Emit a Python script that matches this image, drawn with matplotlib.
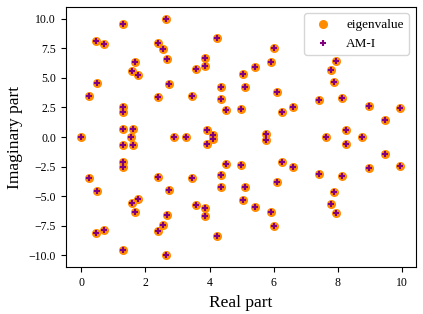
import numpy as np
import matplotlib
matplotlib.use("Agg")
import matplotlib.pyplot as plt

plt.rcParams['font.family'] = ['Liberation Serif', 'DejaVu Serif']
plt.rcParams['mathtext.fontset'] = 'stix'

# Real eigenvalues (imaginary part 0)
real_only = [0.01, 1.54, 2.88, 3.27, 7.63, 8.74]

# Complex conjugate pairs: real part and positive imaginary part
pair_re = [0.24, 0.47, 0.51, 0.72, 1.29, 1.29, 1.29, 1.29, 1.58, 1.69,
           1.77, 1.62, 2.39, 2.38, 2.55, 2.63, 2.68, 2.74, 3.45, 3.59,
           3.86, 3.86, 3.93, 4.12, 4.22, 4.36, 4.37, 4.50, 5.03, 5.10,
           4.98, 5.43, 5.90, 6.02, 6.11, 6.26, 6.60, 5.77, 7.42, 7.79,
           7.87, 7.95, 8.13, 8.24, 8.96, 9.46, 9.92]
pair_im = [3.49, 8.11, 4.56, 7.84, 9.53, 2.51, 2.11, 0.65, 5.60, 6.37,
           5.27, 0.65, 7.97, 3.35, 7.47, 10.0, 6.62, 4.48, 3.49, 5.75,
           6.65, 6.00, 0.59, 0.20, 8.34, 4.25, 3.24, 2.25, 5.33, 4.23,
           2.37, 5.94, 6.34, 7.55, 3.83, 2.13, 2.50, 0.28, 3.10, 5.68,
           4.68, 6.38, 3.26, 0.60, 2.62, 1.46, 2.44]

re = np.concatenate([real_only, pair_re, pair_re])
im = np.concatenate([np.zeros(len(real_only)), pair_im, -np.array(pair_im)])

fig = plt.figure(figsize=(4.23, 3.14), dpi=100)
ax = fig.add_axes([65.7/423, 1 - 267.3/314, (415.7-65.7)/423, (267.3-6.7)/314])

ax.scatter(re, im, s=30, color='darkorange', label='eigenvalue', zorder=2)
ax.scatter(re, im, s=24, marker='+', color='purple', linewidths=1.5,
           label='AM-I', zorder=3)

ax.set_xlim(-0.48, 10.42)
ax.set_ylim(-11.0, 11.0)
ax.set_xticks([0, 2, 4, 6, 8, 10])
ax.set_yticks([-10, -7.5, -5, -2.5, 0, 2.5, 5, 7.5, 10])
ax.tick_params(labelsize=8.5)
ax.set_xlabel('Real part', fontsize=12.5)
ax.set_ylabel('Imaginary part', fontsize=12.5)
ax.legend(loc='upper right', fontsize=9.5)

fig.savefig('out.png', dpi=100)
